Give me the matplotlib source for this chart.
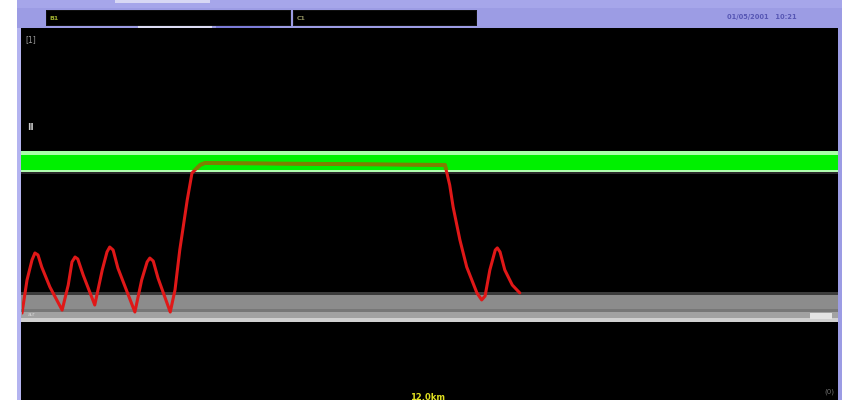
import matplotlib
matplotlib.use("Agg")
import matplotlib.pyplot as plt
from matplotlib.patches import Rectangle

# Speed trace: time (s) and speed (% of set point)
time_s = [0.0, 0.74, 1.47, 1.9, 2.35, 2.9, 4.1, 5.9,
          6.8, 7.35, 7.8, 8.2, 9.0, 10.7,
          11.8, 12.5, 12.9, 13.4, 14.1, 16.6,
          17.6, 18.4, 18.8, 19.3, 20.0, 21.8,
          22.5, 23.2, 24.3, 25.0, 26.2, 26.9,
          62.2, 62.9, 63.4, 64.4, 65.4, 66.9, 67.6,
          68.1, 68.8, 69.6, 69.9, 70.3, 71.0, 72.1, 73.2]
speed_pct = [-0.7, 21.5, 34.9, 39.6, 38.3, 30.2, 16.8, 1.3,
             18.1, 33.6, 36.9, 35.6, 24.8, 4.7,
             28.2, 40.3, 43.6, 41.6, 29.5, 0.0,
             21.5, 33.6, 36.2, 34.2, 22.8, 0.0,
             14.8, 41.6, 75.2, 93.3, 98.7, 100.0,
             98.7, 85.2, 70.5, 48.3, 30.2, 12.8, 8.1,
             10.7, 28.2, 41.6, 43.0, 40.3, 28.2, 18.1, 12.8]

header_left = "B1"
header_right = "C1"
timestamp = "01/05/2001   10:21"
panel_tag = "[1]"
mark_tag = "II"
band_tag = "a.r"
footer_tag = "12.0km"
corner_tag = "(0)"

W, H = 842, 400
fig = plt.figure(figsize=(W / 100, H / 100), dpi=100)
fig.patch.set_facecolor("white")

# Screen layer in pixel coordinates
scr = fig.add_axes([0, 0, 1, 1])
scr.set_xlim(0, W)
scr.set_ylim(H, 0)
scr.axis("off")

def box(x0, y0, x1, y1, color, z=1, **kw):
    scr.add_patch(Rectangle((x0, y0), x1 - x0, y1 - y0, facecolor=color,
                            edgecolor="none", zorder=z, **kw))

# window frame
box(17, 0, W, H, "#9c9ce4", 0)
box(17, 0, W, 8, "#a6a6ea", 0.5)
box(115, 0, 210, 3, "#d8d8f4", 0.6)
box(138, 25, 212, 28, "#dcdcf4", 0.6)
box(216, 25, 270, 28, "#7c7cd8", 0.6)
box(17, 28, 22, H, "#b4b4f0", 0.6)

# header fields
box(46, 10, 291, 26, "#101010", 1)
box(47, 11, 290, 25, "#000000", 1.1)
box(293, 10, 477, 26, "#101010", 1)
box(294, 11, 476, 25, "#000000", 1.1)
scr.text(49, 18.5, header_left, color="#a0b030", fontsize=4.5, va="center",
         ha="left", zorder=2, fontweight="bold")
scr.text(297, 18.5, header_right, color="#909060", fontsize=4.5, va="center",
         ha="left", zorder=2, fontweight="bold")
scr.text(762, 17.5, timestamp, color="#5656b4", fontsize=4.8, va="center",
         ha="center", zorder=2, fontweight="bold")

# black display panel
box(21, 28, 838, H, "#000000", 1)

# upper limit band (green)
box(21, 151, 838, 155, "#a8ffa8", 2)
box(21, 155, 838, 170, "#00f000", 2)
box(21, 170, 838, 172, "#b0ffb0", 2)
box(21, 172, 838, 174, "#2a2a2a", 2)

# lower band (grey)
box(21, 292, 838, 295, "#3c3c3c", 2)
box(21, 295, 838, 309, "#8c8c8c", 2)
box(21, 309, 838, 312, "#777777", 2)
box(21, 312, 838, 318, "#a2a2a2", 2)
box(21, 318, 838, 322, "#d0d0d0", 2)
box(810, 313, 832, 319, "#e4e4e4", 2.1)

scr.text(25, 40, panel_tag, color="#9a9a9a", fontsize=5.5, va="center",
         ha="left", zorder=3)
scr.text(27, 127, mark_tag, color="#c8c8c8", fontsize=6.5, va="center",
         ha="left", zorder=3, fontweight="bold")
scr.text(28, 314, band_tag, color="#dcdcdc", fontsize=4, va="center",
         ha="left", zorder=3)
scr.text(428, 397, footer_tag, color="#e0e020", fontsize=6, va="center",
         ha="center", zorder=3, fontweight="bold")
scr.text(829, 392, corner_tag, color="#707070", fontsize=5, va="center",
         ha="center", zorder=3)

# Trace axes: x 22..838 px, y 152..322 px
ax = fig.add_axes([22 / W, (H - 322) / H, 816 / W, 170 / H])
ax.set_xlim(0, 120)
ax.set_ylim(-6.71, 107.38)
ax.patch.set_alpha(0)
ax.axis("off")
ax.set_zorder(5)

ax.plot(time_s, speed_pct, color="#e01818", lw=2.2, solid_joinstyle="round",
        solid_capstyle="round")
over, = ax.plot(time_s, speed_pct, color="#7c8000", lw=2.8,
                solid_joinstyle="round", solid_capstyle="round")
clip = Rectangle((0, 155), W, 15, transform=scr.transData)
over.set_clip_path(clip)

fig.savefig("out.png", dpi=100, facecolor=fig.get_facecolor())
